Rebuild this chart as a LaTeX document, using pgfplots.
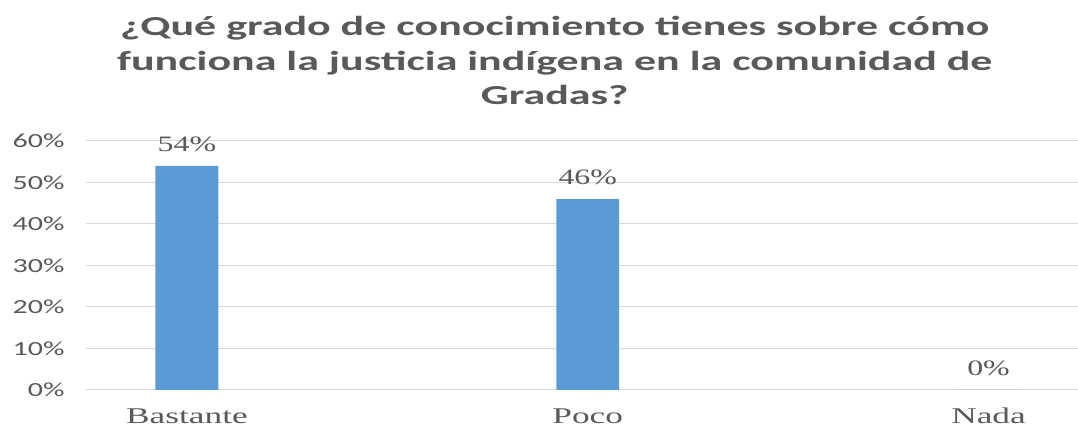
\documentclass[border=0pt]{standalone}
\usepackage{fontspec}
\usepackage{pgfplots}
\pgfplotsset{compat=1.18}
\setmainfont{Liberation Serif}[FakeStretch=1.45]
\newfontfamily\catfont{Liberation Serif}[FakeStretch=1.57]
\newfontfamily\titlefont{Carlito}[FakeStretch=1.6]
\newfontfamily\tickfont{Carlito}[FakeStretch=1.5]
\definecolor{barblue}{HTML}{5B9BD5}
\definecolor{txtgray}{HTML}{595959}
\definecolor{gridgray}{HTML}{D9D9D9}

\begin{document}
\begin{tikzpicture}
\begin{axis}[
    scale only axis,
    width=992pt, height=249pt,
    xmin=-0.252, xmax=2.222,
    ymin=0, ymax=60,
    ybar, bar width=0.157,
    axis line style={draw=none},
    major tick length=0pt,
    xtick=data,
    xticklabels={Bastante, Poco, Nada},
    xticklabel style={font=\catfont\fontsize{22.5}{26}\selectfont, text=txtgray, yshift=-15pt},
    ytick={0,10,...,60},
    yticklabel={\pgfmathprintnumber{\tick}\%},
    yticklabel style={font=\tickfont\fontsize{20}{24}\selectfont, text=txtgray, xshift=-18pt},
    /pgf/number format/assume math mode=true,
    ymajorgrids, grid style={gridgray, line width=1pt},
    nodes near coords={\pgfmathprintnumber{\pgfplotspointmeta}\%},
    every node near coord/.append style={font=\fontsize{22}{26}\selectfont, text=txtgray, yshift=11pt},
    clip=false,
]
\addplot[fill=barblue, draw=none] coordinates {(0,54) (1,46) (2,0)};
\end{axis}
\path (current axis.south west) ++(-86pt,-35pt) rectangle ++(1078pt,425pt);
\node[anchor=base, align=center, text=txtgray, font=\titlefont\bfseries\fontsize{27.5}{34.5}\selectfont]
  at ([shift={(469pt,285pt)}]current axis.south west)
  {¿Qué grado de conocimiento tienes sobre cómo\\funciona la justicia indígena en la comunidad de\\Gradas?};
\end{tikzpicture}
\end{document}
